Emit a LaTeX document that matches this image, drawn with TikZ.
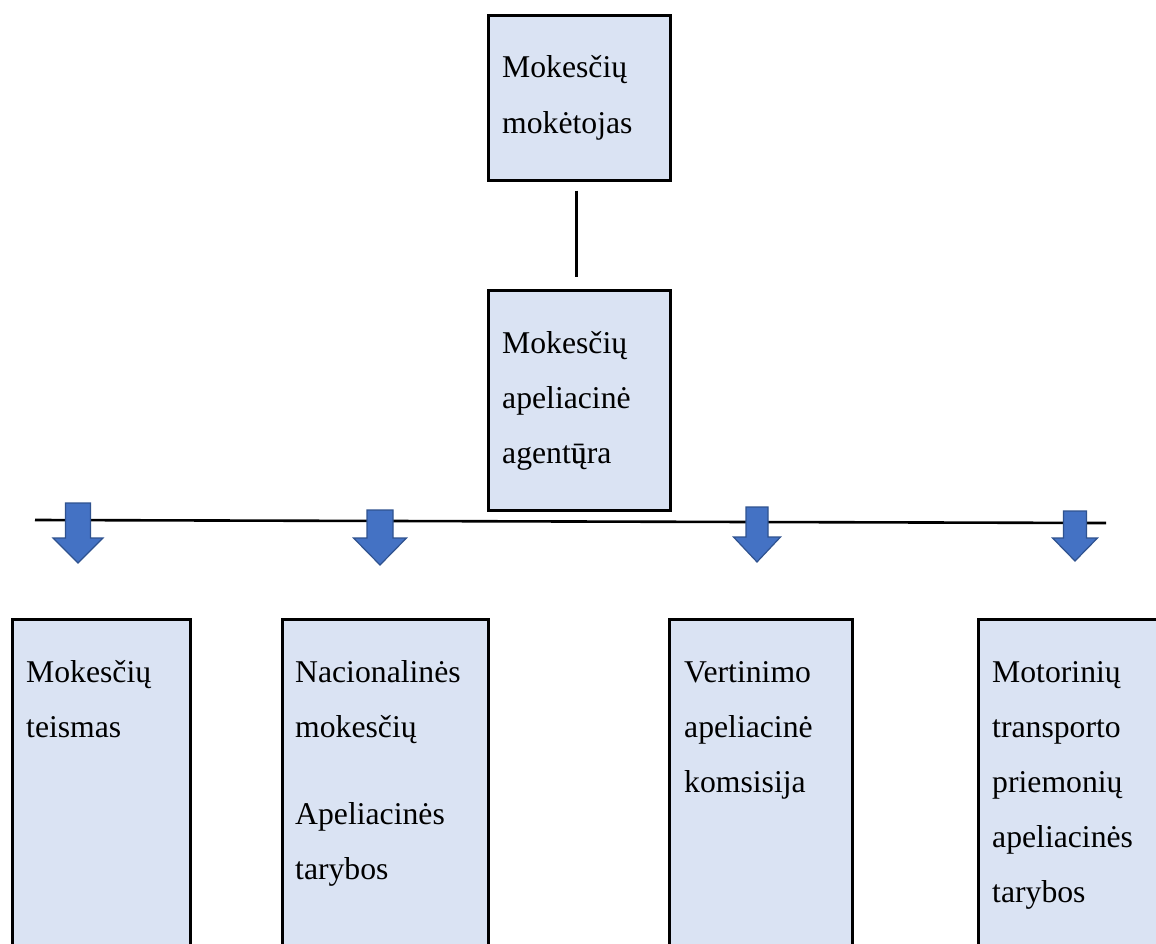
\documentclass[tikz,border=0pt]{standalone}
\usepackage{fontspec}
\setmainfont{Liberation Serif}
\definecolor{boxfill}{HTML}{DAE3F3}
\definecolor{arrfill}{HTML}{4472C4}
\definecolor{arrdraw}{HTML}{2F528F}
% #1 tip x, #2 top y, #3 head start y, #4 tip y, #5 shaft half width, #6 head half width
\newcommand\blkarrow[6]{%
  \draw[blockarr] (#1-#5,#2) -- (#1+#5,#2) -- (#1+#5,#3) -- (#1+#6,#3) -- (#1,#4)
     -- (#1-#6,#3) -- (#1-#5,#3) -- cycle;}
\begin{document}
\begin{tikzpicture}[x=1pt,y=-1pt,
  box/.style={draw=black,line width=2.6pt,fill=boxfill,anchor=north west,inner sep=0pt},
  txt/.style={font=\fontsize{31.7pt}{38pt}\selectfont,inner sep=0pt,anchor=base west},
  link/.style={draw=black,line width=2.6pt},
  blockarr/.style={fill=arrfill,draw=arrdraw,line width=1.2pt,line join=miter}]
\clip (0,0) rectangle (1156,944);
\fill[white] (0,0) rectangle (1156,944);
% boxes
\node[box,minimum width=182pt,minimum height=165pt] (top) at (487,14) {};
\node[box,minimum width=182pt,minimum height=220pt] (mid) at (487,289) {};
\node[box,minimum width=178pt,minimum height=340pt] (b1) at (11,618) {};
\node[box,minimum width=206pt,minimum height=340pt] (b2) at (281,618) {};
\node[box,minimum width=183pt,minimum height=340pt] (b3) at (668,618) {};
\node[box,minimum width=190pt,minimum height=340pt] (b4) at (977,618) {};
% connectors
\draw[link,shorten <=9pt,shorten >=12pt] ([xshift=-3pt]top.south) -- ([xshift=-3pt]mid.north);
\coordinate (hl) at (35,520);
\coordinate (hr) at (1106,523);
\draw[link] (hl) -- (hr);
\blkarrow{78}{503}{538}{563}{12.5}{25}
\blkarrow{380}{510}{538}{565}{13}{26.5}
\blkarrow{757}{507}{537}{562}{11}{23.5}
\blkarrow{1075}{511}{538}{561}{11.5}{22.5}
% texts
\node[txt] (t1) at (502,78) {Mokesčių};
\node[txt] (t2) at (502,134) {mokėtojas};
\node[txt] (m1) at (502,353) {Mokesčių};
\node[txt] (m2) at (502,408) {apeliacinė};
\node[txt] (m3) at (502,463) {agent\rlap{ų}ūra};
\node[txt] (a1) at (26,682) {Mokesčių};
\node[txt] (a2) at (26,737) {teismas};
\node[txt] (c1) at (295,682) {Nacionalinės};
\node[txt] (c2) at (295,737) {mokesčių};
\node[txt] (c3) at (295,824) {Apeliacinės};
\node[txt] (c4) at (295,879) {tarybos};
\node[txt] (d1) at (684,682) {Vertinimo};
\node[txt] (d2) at (684,737) {apeliacinė};
\node[txt] (d3) at (684,792) {komsisija};
\node[txt] (e1) at (992,682) {Motorinių};
\node[txt] (e2) at (992,737) {transporto};
\node[txt] (e3) at (992,792) {priemonių};
\node[txt] (e4) at (992,847) {apeliacinės};
\node[txt] (e5) at (992,902) {tarybos};
\end{tikzpicture}
\end{document}
